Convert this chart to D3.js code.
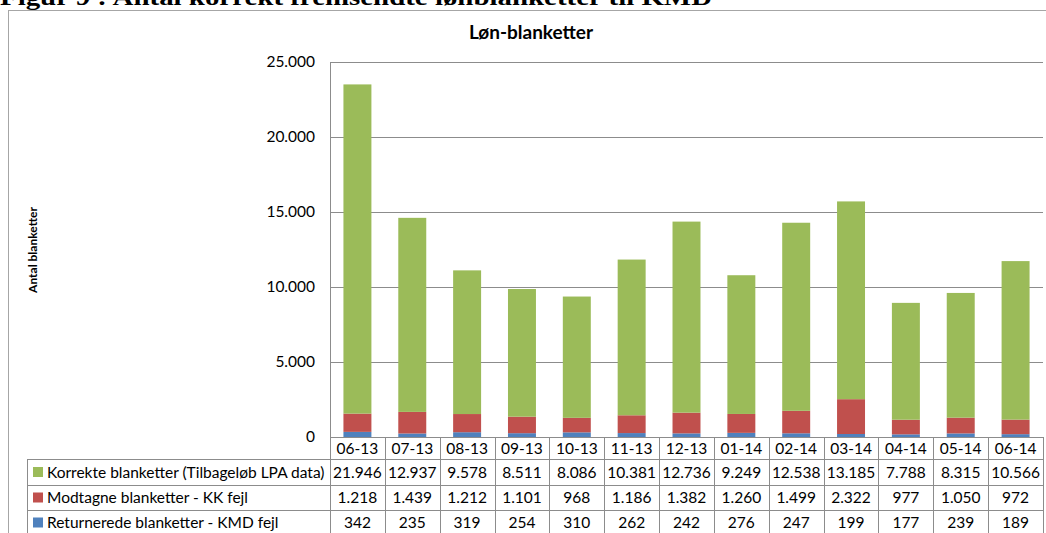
<!DOCTYPE html>
<html>
<head>
<meta charset="utf-8">
<script src="https://cdn.jsdelivr.net/npm/d3@7"></script>
<style>
  html, body { margin: 0; padding: 0; background: #fff; overflow: hidden; }
  svg { display: block; }
  text { font-family: Lato, "Open Sans", sans-serif; fill: #000; }
</style>
</head>
<body>
<svg id="chart" width="1046" height="533"></svg>
<script>
// Months on the x axis
const categories = ["06-13","07-13","08-13","09-13","10-13","11-13","12-13","01-14","02-14","03-14","04-14","05-14","06-14"];

// Series, bottom of the stack first
const returneredeKMD = [342, 235, 319, 254, 310, 262, 242, 276, 247, 199, 177, 239, 189];
const modtagneKK    = [1218, 1439, 1212, 1101, 968, 1186, 1382, 1260, 1499, 2322, 977, 1050, 972];
const korrekte      = [21946, 12937, 9578, 8511, 8086, 10381, 12736, 9249, 12538, 13185, 7788, 8315, 10566];

const seriesNames = [
  "Korrekte blanketter (Tilbageløb LPA data)",
  "Modtagne blanketter - KK fejl",
  "Returnerede blanketter - KMD fejl"
];
const seriesColors = ["#9bbb59", "#c0504d", "#4f81bd"];
const yTicks = [0, 5000, 10000, 15000, 20000, 25000];

const figureCaption = "Figur 9 : Antal korrekt fremsendte lønblanketter til KMD";
const chartTitle = "Løn-blanketter";
const yAxisTitle = "Antal blanketter";

// Danish number format: "." as thousands separator
const locale = d3.formatLocale({ decimal: ",", thousands: ".", grouping: [3], currency: ["", ""] });
const fmt = locale.format(",d");

const svg = d3.select("#chart");

// Layout
const plot = { left: 330, right: 1043, top: 62, bottom: 437 };
const tableLeft = 27;
const headerBottom = 459;
const rowEdges = [459, 485, 510, 535];
const lineColor = "#8c8c8c";

// Figure caption above the chart frame
svg.append("text")
  .attr("x", 0).attr("y", 5)
  .attr("textLength", 712).attr("lengthAdjust", "spacingAndGlyphs")
  .style("font-family", "'Liberation Serif', 'Times New Roman', serif")
  .style("font-weight", "bold").style("font-size", "24px")
  .text(figureCaption);

// Chart frame
svg.append("rect")
  .attr("x", 8.5).attr("y", 10.5).attr("width", 1060).attr("height", 560)
  .attr("fill", "#fff").attr("stroke", "#a6a6a6").attr("stroke-width", 1);

// Title
svg.append("text")
  .attr("x", 531).attr("y", 39)
  .attr("text-anchor", "middle")
  .style("font-weight", "bold").style("font-size", "19px")
  .text(chartTitle);

// Scales
const y = d3.scaleLinear().domain([0, 25000]).range([plot.bottom, plot.top]);
const xCol = d3.scaleBand().domain(categories).range([plot.left, plot.right]).padding(0);
const xBar = d3.scaleBand().domain(categories).range([plot.left, plot.right])
  .paddingInner(0.49).paddingOuter(0.245);

// Horizontal gridlines
svg.append("g").selectAll("line").data(yTicks.filter(d => d > 0)).join("line")
  .attr("x1", plot.left).attr("x2", plot.right)
  .attr("y1", d => Math.round(y(d)) + 0.5).attr("y2", d => Math.round(y(d)) + 0.5)
  .attr("stroke", lineColor).attr("stroke-width", 1);

// Y axis labels
const yAxis = d3.axisLeft(y).tickValues(yTicks).tickFormat(fmt).tickSize(0).tickPadding(15);
const yg = svg.append("g").attr("transform", `translate(${plot.left},0)`).call(yAxis);
yg.select(".domain").remove();
yg.selectAll("text").style("font-family", "Lato, sans-serif").style("font-size", "15.5px").attr("fill", "#000");

// Y axis title
svg.append("text")
  .attr("transform", "translate(37,250) rotate(-90)")
  .attr("text-anchor", "middle")
  .style("font-weight", "bold").style("font-size", "12px")
  .text(yAxisTitle);

// Stacked bars
const rows = categories.map((c, i) => ({ cat: c, kmd: returneredeKMD[i], kk: modtagneKK[i], ok: korrekte[i] }));
const stack = d3.stack().keys(["kmd", "kk", "ok"]);
const layers = stack(rows);
const layerColors = { kmd: seriesColors[2], kk: seriesColors[1], ok: seriesColors[0] };

svg.append("g").selectAll("g").data(layers).join("g")
  .attr("fill", d => layerColors[d.key])
  .selectAll("rect").data(d => d).join("rect")
  .attr("x", d => xBar(d.data.cat))
  .attr("width", xBar.bandwidth())
  .attr("y", d => y(d[1]))
  .attr("height", d => y(d[0]) - y(d[1]));

// Data table grid
const grid = svg.append("g").attr("stroke", lineColor).attr("stroke-width", 1).attr("shape-rendering", "crispEdges");
// axis baseline / table top
grid.append("line").attr("x1", plot.left).attr("x2", plot.right).attr("y1", plot.bottom).attr("y2", plot.bottom);
// row separators
rowEdges.forEach(r => grid.append("line").attr("x1", tableLeft).attr("x2", plot.right).attr("y1", r).attr("y2", r));
// value axis line
grid.append("line").attr("x1", plot.left).attr("x2", plot.left).attr("y1", plot.top).attr("y2", 540);
// left border of legend column
grid.append("line").attr("x1", tableLeft).attr("x2", tableLeft).attr("y1", headerBottom).attr("y2", 540);
// category column separators
const colEdges = categories.map(c => xCol(c) + xCol.bandwidth());
grid.selectAll(".col").data(colEdges).join("line")
  .attr("x1", d => Math.round(d)).attr("x2", d => Math.round(d))
  .attr("y1", plot.bottom).attr("y2", 540);

// Category labels
svg.append("g").selectAll("text").data(categories).join("text")
  .attr("x", d => xCol(d) + xCol.bandwidth() / 2)
  .attr("y", (plot.bottom + headerBottom) / 2 + 5.5)
  .attr("text-anchor", "middle")
  .style("font-size", "15.5px")
  .text(d => d);

// Table rows: legend key + values
const tableSeries = [korrekte, modtagneKK, returneredeKMD];
tableSeries.forEach((vals, r) => {
  const cy = (rowEdges[r] + rowEdges[r + 1]) / 2;
  svg.append("rect")
    .attr("x", 33).attr("y", cy - 5).attr("width", 10).attr("height", 10)
    .attr("fill", seriesColors[r]);
  svg.append("text")
    .attr("x", 47).attr("y", cy + 5.5)
    .style("font-size", "15.5px")
    .text(seriesNames[r]);
  svg.append("g").selectAll("text").data(vals).join("text")
    .attr("x", (d, i) => xCol(categories[i]) + xCol.bandwidth() / 2)
    .attr("y", cy + 5.5)
    .attr("text-anchor", "middle")
    .style("font-size", "15.5px")
    .text(d => fmt(d));
});
</script>
</body>
</html>
